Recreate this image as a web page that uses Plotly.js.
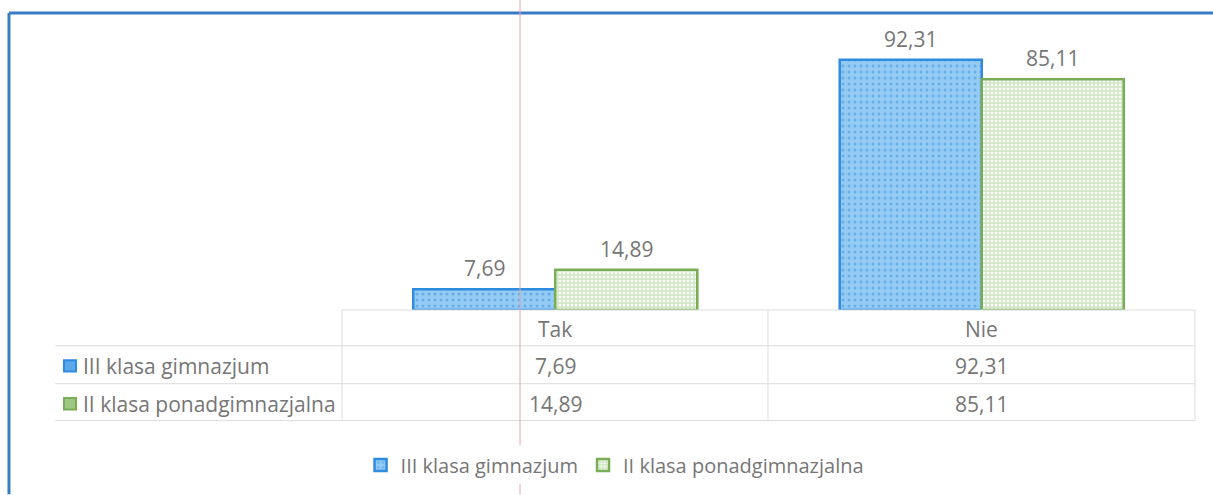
<!DOCTYPE html>
<html>
<head>
<meta charset="utf-8">
<script src="https://cdn.plot.ly/plotly-3.0.1.min.js"></script>
<style>html,body{margin:0;padding:0;background:#fff;}#chart{width:1213px;height:495px;}</style>
</head>
<body>
<div id="chart"></div>
<script>
const categories = ["Tak", "Nie"];
const seriesNames = ["III klasa gimnazjum", "II klasa ponadgimnazjalna"];
const gimnazjum = [7.69, 92.31];
const ponadgimnazjalna = [14.89, 85.11];

const fmt = v => v.toFixed(2).replace(".", ",");
const textColor = "#767676";
const fontFam = "'Open Sans', 'Noto Sans', sans-serif";
const fs = 21;

const blue = {bg: "#93cbf5", fg: "#66aee9", line: "#2f8be0", icon: "#5ba7ea"};
const green = {bg: "#d2e8c6", fg: "#ffffff", line: "#78ad55", icon: "#9cc884"};

const traces = [
  {type: "bar", name: seriesNames[0], x: categories, y: gimnazjum,
   marker: {color: blue.bg, line: {color: blue.line, width: 2.5},
            pattern: {shape: ".", bgcolor: blue.bg, fgcolor: blue.fg, size: 6, solidity: 0.2}},
   hoverinfo: "skip"},
  {type: "bar", name: seriesNames[1], x: categories, y: ponadgimnazjalna,
   marker: {color: green.bg, line: {color: green.line, width: 2.5},
            pattern: {shape: ".", bgcolor: green.bg, fgcolor: green.fg, size: 4, solidity: 0.35}},
   hoverinfo: "skip"}
];

const annotations = [];
const series = [gimnazjum, ponadgimnazjalna];
const shifts = [-71, 71];
series.forEach((vals, s) => {
  vals.forEach((v, i) => {
    annotations.push({x: categories[i], y: v, xref: "x", yref: "y", text: fmt(v),
      showarrow: false, xshift: shifts[s], yanchor: "bottom", yshift: 5,
      font: {family: fontFam, size: fs, color: textColor}});
  });
});
// table header
categories.forEach(c => {
  annotations.push({x: c, y: -0.0699, xref: "x", yref: "paper", text: c, showarrow: false,
    xanchor: "center", yanchor: "middle",
    font: {family: fontFam, size: fs, color: textColor}});
});
const rowY = [-0.206, -0.346];
series.forEach((vals, s) => {
  vals.forEach((v, i) => {
    annotations.push({x: categories[i], y: rowY[s], xref: "x", yref: "paper", text: fmt(v),
      showarrow: false, xanchor: "center", yanchor: "middle",
      font: {family: fontFam, size: fs, color: textColor}});
  });
  annotations.push({x: -0.306, y: rowY[s], xref: "paper", yref: "paper", text: seriesNames[s],
    showarrow: false, xanchor: "left", yanchor: "middle",
    font: {family: fontFam, size: fs, color: textColor}});
});

const grid = "#dcdcdc";
const shapes = [];
const hline = (x0, x1, y) => shapes.push({type: "line", xref: "paper", yref: "paper", x0, x1, y0: y, y1: y, line: {color: grid, width: 1}});
const vline = (x, y0, y1) => shapes.push({type: "line", xref: "paper", yref: "paper", x0: x, x1: x, y0, y1, line: {color: grid, width: 1}});
hline(0, 1, 0);
hline(-0.3365, 1, -0.132);
hline(-0.3365, 1, -0.272);
hline(-0.3365, 1, -0.408);
vline(0, 0, -0.408);
vline(0.4994, 0, -0.408);
vline(1, 0, -0.408);
// row icons
const icons = [blue, green];
rowY.forEach((y, s) => {
  shapes.push({type: "rect", xref: "paper", yref: "paper",
    x0: -0.3259, x1: -0.3118, y0: y - 0.021, y1: y + 0.021,
    fillcolor: icons[s].icon, line: {color: icons[s].line, width: 2}});
});
// outer frame (blue border left & top)
shapes.push({type: "line", xref: "paper", yref: "paper", x0: -0.3904, x1: -0.3904, y0: 1.0956, y1: -0.68, line: {color: "#3a7cc4", width: 3}});
shapes.push({type: "line", xref: "paper", yref: "paper", x0: -0.3904, x1: 1.03, y0: 1.0956, y1: 1.0956, line: {color: "#3a7cc4", width: 3}});
// scan artifact line
shapes.push({type: "line", xref: "paper", yref: "paper", x0: 0.2087, x1: 0.2087, y0: 1.15, y1: -0.68, line: {color: "#e7a3ad", width: 1}});

const layout = {
  width: 1213, height: 495,
  margin: {l: 342, r: 18, t: 39, b: 184},
  paper_bgcolor: "#ffffff", plot_bgcolor: "#ffffff",
  separators: ",.",
  barmode: "group", bargap: 0.334, bargroupgap: 0,
  xaxis: {type: "category", showticklabels: false, showgrid: false, zeroline: false, showline: false, ticks: ""},
  yaxis: {range: [0, 100], visible: false},
  showlegend: true,
  legend: {orientation: "h", x: 0.3201, xanchor: "center", y: -0.566, yanchor: "middle",
           font: {family: fontFam, size: 20, color: textColor}, itemwidth: 30, traceorder: "normal"},
  annotations, shapes,
  font: {family: fontFam}
};

Plotly.newPlot("chart", traces, layout, {staticPlot: true, displayModeBar: false});
</script>
</body>
</html>
